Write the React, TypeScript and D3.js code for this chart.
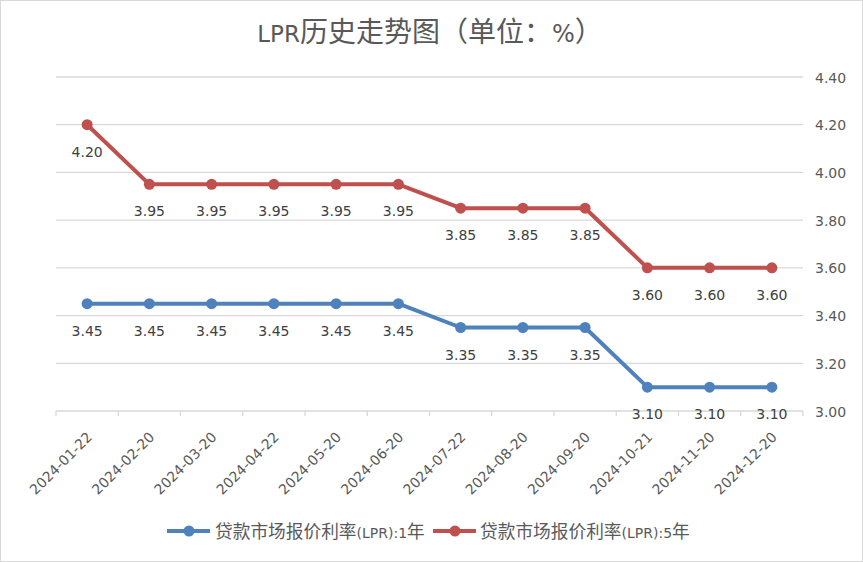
import React from "react";
import * as d3 from "d3";

const dates = ["2024-01-22","2024-02-20","2024-03-20","2024-04-22","2024-05-20","2024-06-20","2024-07-22","2024-08-20","2024-09-20","2024-10-21","2024-11-20","2024-12-20"];
const lpr1 = [3.45,3.45,3.45,3.45,3.45,3.45,3.35,3.35,3.35,3.10,3.10,3.10];
const lpr5 = [4.20,3.95,3.95,3.95,3.95,3.95,3.85,3.85,3.85,3.60,3.60,3.60];
const yTicks = [3.0,3.2,3.4,3.6,3.8,4.0,4.2,4.4];
const seriesPrefix = "贷款市场报价利率";
const seriesLatin = ["(LPR):1", "(LPR):5"];
const seriesSuffix = "年";
const colors = ["#4F81BD","#C0504D"];

const LAT = "'DejaVu Sans', Verdana, sans-serif";
const CJK = "'Noto Sans CJK SC', sans-serif";

export default function App() {
  const W = 863, H = 562;
  const left = 56, right = 803, top = 77, bottom = 411;
  const x = d3.scaleBand<string>().domain(dates).range([left, right]);
  const y = d3.scaleLinear().domain([3.0, 4.4]).range([bottom, top]);
  const cx = (d: string) => (x(d) as number) + x.bandwidth() / 2;
  const line = d3.line<number>().x((_, i) => cx(dates[i])).y(v => y(v));
  const series = [lpr1, lpr5];
  const legendX = [[167, 215], [433, 480]];
  return (
    <svg width={W} height={H} style={{ position: "absolute", left: 0, top: 0, fontFamily: LAT }}>
      <rect x={0.5} y={0.5} width={W - 1} height={H - 1} fill="#fff" stroke="#D9D9D9" />
      <text x={430} y={42} textAnchor="middle" fill="#595959">
        <tspan fontFamily={LAT} fontSize={23}>LPR</tspan>
        <tspan fontFamily={CJK} fontSize={28}>历史走势图（单位：</tspan>
        <tspan fontFamily={LAT} fontSize={24}>%</tspan>
        <tspan fontFamily={CJK} fontSize={28}>）</tspan>
      </text>
      {yTicks.map(t => (
        <g key={t}>
          {t > 3.0 && <line x1={left} x2={right} y1={y(t)} y2={y(t)} stroke="#D9D9D9" strokeWidth={1.3} />}
          <text x={815} y={y(t) + 5.5} fontSize={14} fill="#595959">{t.toFixed(2)}</text>
        </g>
      ))}
      <line x1={left} x2={right} y1={bottom} y2={bottom} stroke="#D9D9D9" strokeWidth={1.3} />
      {dates.map(d => (
        <line key={"t" + d} x1={x(d) as number} x2={x(d) as number} y1={bottom} y2={bottom + 5} stroke="#D9D9D9" strokeWidth={1.3} />
      ))}
      <line x1={right} x2={right} y1={bottom} y2={bottom + 5} stroke="#D9D9D9" strokeWidth={1.3} />
      {dates.map(d => (
        <text key={"l" + d} transform={`translate(${cx(d) + 6},${bottom + 27}) rotate(-45)`} textAnchor="end" fontSize={14} fill="#595959">{d}</text>
      ))}
      {series.map((s, k) => (
        <g key={k}>
          <path d={line(s) as string} fill="none" stroke={colors[k]} strokeWidth={4} strokeLinejoin="round" />
          {s.map((v, i) => (
            <circle key={i} cx={cx(dates[i])} cy={y(v)} r={5.5} fill={colors[k]} />
          ))}
          {s.map((v, i) => (
            <text key={"v" + i} x={cx(dates[i])} y={y(v) + 32} textAnchor="middle" fontSize={14} fill="#404040">{v.toFixed(2)}</text>
          ))}
        </g>
      ))}
      {[0, 1].map(k => {
        const [lx, tx] = legendX[k];
        return (
          <g key={"lg" + k}>
            <line x1={lx} x2={lx + 43} y1={531} y2={531} stroke={colors[k]} strokeWidth={4} />
            <circle cx={lx + 22} cy={531} r={5.5} fill={colors[k]} />
            <text x={tx} y={537.5} fill="#595959">
              <tspan fontFamily={CJK} fontSize={17.7}>{seriesPrefix}</tspan>
              <tspan fontFamily={LAT} fontSize={14}>{seriesLatin[k]}</tspan>
              <tspan fontFamily={CJK} fontSize={17.7}>{seriesSuffix}</tspan>
            </text>
          </g>
        );
      })}
    </svg>
  );
}
